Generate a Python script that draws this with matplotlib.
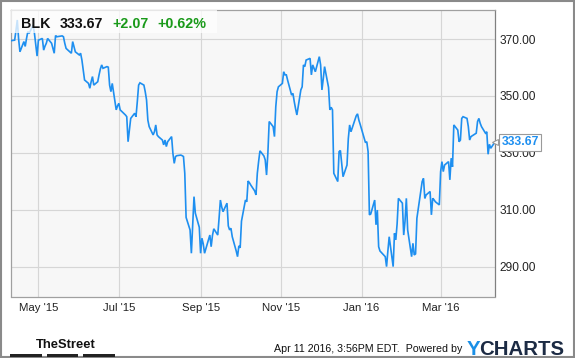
import matplotlib
matplotlib.use("Agg")
import matplotlib.pyplot as plt
from matplotlib.patches import Rectangle
import pandas as pd

plt.rcParams['font.family'] = ['Liberation Sans', 'DejaVu Sans']

ticker = "BLK"
last_price = 333.67
change = "+2.07"
change_pct = "+0.62%"
stamp = "Apr 11 2016, 3:56PM EDT.  Powered by"

holidays = ["2015-05-25", "2015-07-03", "2015-09-07", "2015-11-26", "2015-12-25",
            "2016-01-01", "2016-01-18", "2016-02-15", "2016-03-25"]
start_date = "2015-04-10"
end_date = "2016-04-11"

apr15 = [369.4, 369.6, 373.0, 376.7, 370.0, 365.5, 369.1, 367.4, 370.2, 372.6, 372.0, 374.9, 372.0, 368.0, 364.0]
may15 = [369.6, 370.2, 366.1, 367.5, 368.5, 370.2, 368.5, 366.7, 365.0, 371.2, 370.8, 371.0, 371.1, 370.8,
         368.5, 366.7, 365.0, 369.1, 367.3, 365.5]
jun15 = [364.4, 365.0, 362.6, 359.1, 355.6, 354.4, 352.7, 355.0, 356.8, 353.8, 355.0, 357.4, 359.5, 360.9,
         359.7, 360.3, 360.1, 353.8, 351.5, 354.4, 345.1, 346.5]
jul15 = [347.4, 345.1, 343.3, 342.7, 333.9, 338.0, 342.1, 343.9, 342.7, 348.0, 353.8, 354.6, 353.8, 351.5,
         348.6, 341.5, 339.2, 336.3, 337.4, 339.8, 336.3, 335.7]
aug15 = [334.5, 332.8, 334.5, 332.2, 333.9, 335.7, 329.8, 326.3, 328.7, 329.0, 329.2, 329.0, 328.7, 322.8,
         307.3, 302.9, 294.7, 305.0, 314.6, 308.8, 303.8]
sep15 = [294.7, 300.0, 298.0, 294.7, 301.1, 297.0, 301.0, 303.3, 301.1, 307.0, 313.4, 311.0, 309.3, 312.3,
         304.3, 302.9, 303.5, 300.5, 295.5, 293.5, 297.3]
oct15 = [296.6, 306.0, 313.4, 312.8, 320.1, 319.5, 318.7, 316.6, 315.2, 322.8, 327.0, 330.7, 328.9, 327.5,
         322.2, 329.8, 341.0, 339.2, 335.7, 346.2, 351.5, 353.2]
nov15 = [354.4, 358.5, 357.4, 357.4, 355.5, 350.3, 350.9, 348.0, 345.5, 343.3, 352.1, 353.2, 360.9, 360.3,
         362.6, 363.2, 357.4, 360.9, 358.5, 363.8]
dec15 = [360.9, 352.1, 356.0, 360.3, 353.0, 345.1, 346.0, 345.1, 322.8, 319.9, 330.4, 330.8, 326.0, 321.6,
         325.7, 335.0, 339.8, 337.4, 343.0, 343.7, 341.5, 340.0]
jan16 = [333.6, 333.9, 330.4, 308.2, 308.5, 313.4, 304.7, 309.9, 297.0, 295.5, 293.5, 290.0, 295.5, 300.5,
         290.0, 301.7, 299.4, 305.0, 314.0]
feb16 = [312.3, 301.1, 306.0, 314.0, 302.9, 293.5, 298.2, 294.1, 294.5, 307.0, 319.9, 321.0, 314.0, 315.2,
         316.4, 308.2, 314.0, 313.5, 312.8, 311.7]
mar16 = [323.4, 326.9, 323.4, 325.7, 326.9, 320.5, 328.1, 325.1, 339.8, 338.0, 333.9, 334.5, 342.1, 342.7,
         342.1, 339.2, 334.5, 335.7, 336.9, 341.0, 342.1, 340.4]
apr16 = [339.2, 336.9, 337.4, 329.5, 333.0, 331.6, 333.67]

y_ticks = [290, 310, 330, 350, 370]
x_ticks = ["2015-05-01", "2015-07-01", "2015-09-01", "2015-11-01", "2016-01-01", "2016-03-01"]
x_labels = ["May '15", "Jul '15", "Sep '15", "Nov '15", "Jan '16", "Mar '16"]

prices = apr15 + may15 + jun15 + jul15 + aug15 + sep15 + oct15 + nov15 + dec15 + jan16 + feb16 + mar16 + apr16
bday = pd.offsets.CustomBusinessDay(holidays=holidays)
dates = pd.date_range(start_date, end_date, freq=bday)
n = min(len(dates), len(prices))
dates = dates[:n]
prices = prices[:n]

W, H = 575, 358
fig = plt.figure(figsize=(W / 100, H / 100), dpi=100)
fig.patch.set_facecolor('white')

def fx(px):
    return px / W

def fy(py):
    return 1 - py / H

# outer frame
fig.patches.append(Rectangle((fx(0.8), fy(357.2)), fx(573.4), (356.4) / H, transform=fig.transFigure,
                             fill=False, edgecolor='#8a8a8a', linewidth=1.5))

ax_l, ax_r, ax_t, ax_b = 10.7, 494.7, 10.0, 296.5
ax = fig.add_axes([fx(ax_l), fy(ax_b), (ax_r - ax_l) / W, (ax_b - ax_t) / H])
ax.set_facecolor('#f7f7f7')
ax.plot(dates, prices, color='#1e8ff0', linewidth=1.2, solid_joinstyle='miter', zorder=3)

ax.set_xlim(pd.Timestamp("2015-04-10"), pd.Timestamp("2016-04-11"))
ax.set_ylim(279.5, 380.2)

ax.yaxis.tick_right()
ax.set_yticks(y_ticks)
ax.set_yticklabels([f"{v:.2f}" for v in y_ticks])
ax.set_xticks([pd.Timestamp(d) for d in x_ticks])
ax.set_xticklabels(x_labels)
ax.tick_params(axis='y', length=0, pad=3.4, labelsize=8.6, labelcolor='#222222')
ax.tick_params(axis='x', length=0, pad=5.0, labelsize=8.2, labelcolor='#222222')
ax.grid(True, color='#d6d6d6', linewidth=0.85)
ax.set_axisbelow(True)
for side in ['left', 'top', 'bottom']:
    ax.spines[side].set_color('#a0a0a0')
    ax.spines[side].set_linewidth(0.9)
ax.spines['right'].set_color('#808080')
ax.spines['right'].set_linewidth(0.9)

# header box
ax.add_patch(Rectangle((0, 1 - (33.0 - ax_t) / (ax_b - ax_t)), (217 - ax_l) / (ax_r - ax_l),
                       (33.0 - ax_t) / (ax_b - ax_t), transform=ax.transAxes,
                       facecolor='white', alpha=0.75, edgecolor='none', zorder=4))
hy = fy(28.0)
fs = 10.3
fig.text(fx(21.5), hy, ticker, fontsize=fs, fontweight='bold', color='#111111', va='baseline')
fig.text(fx(60.0), hy, f"{last_price:.2f}", fontsize=fs, fontweight='bold', color='#111111', va='baseline')
fig.text(fx(112.5), hy, change, fontsize=fs, fontweight='bold', color='#1a9a1a', va='baseline')
fig.text(fx(157.3), hy, change_pct, fontsize=fs, fontweight='bold', color='#1a9a1a', va='baseline')

# last price marker
ax.annotate(f"{prices[-1]:.2f}", xy=(1, prices[-1]), xycoords=('axes fraction', 'data'),
            xytext=(5.0, 0), textcoords='offset points', ha='left', va='center',
            fontsize=8.7, fontweight='bold', color='#1e8ff0', annotation_clip=False,
            bbox=dict(boxstyle='square,pad=0.2', facecolor='white', edgecolor='#9a9a9a', linewidth=0.8),
            zorder=6)
ax.plot([1.0], [prices[-1]], marker='<', markersize=5, markerfacecolor='white', markeredgecolor='#9a9a9a',
        markeredgewidth=0.8, transform=ax.get_yaxis_transform(), clip_on=False, zorder=7)

# footer
fig.text(fx(36), fy(347.5), "TheStreet", fontsize=9.4, fontweight='bold', color='#111111',
         va='baseline')
for x0, x1 in [(10, 42), (47, 78), (83, 115)]:
    fig.patches.append(Rectangle((fx(x0), fy(357)), fx(x1 - x0), 3 / H, transform=fig.transFigure,
                                 facecolor='#222222', edgecolor='none'))
fig.text(fx(462), fy(352.5), stamp, fontsize=7.7, color='#111111', ha='right', va='baseline')
fig.text(fx(467), fy(355), "Y", fontsize=14.7, fontweight='bold', color='#1a8fe6', va='baseline')
fig.text(fx(479.5), fy(355), "CHARTS", fontsize=14.7, fontweight='bold', color='#1c2b44', va='baseline')

fig.savefig("out.png", dpi=100, facecolor='white')
